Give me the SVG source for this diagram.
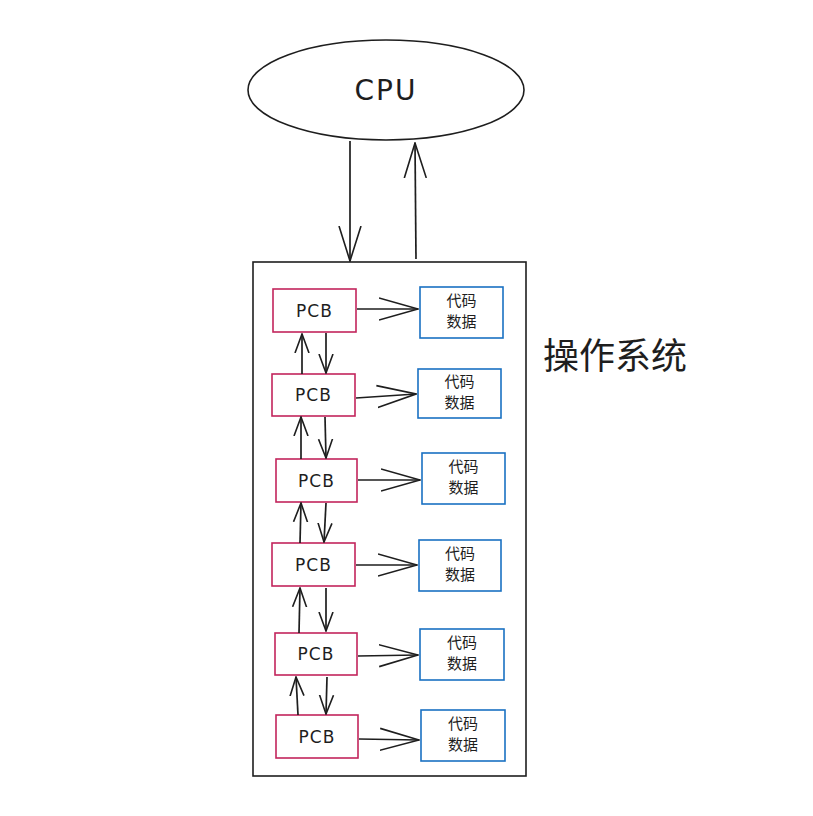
<svg xmlns="http://www.w3.org/2000/svg" width="813" height="816" viewBox="0 0 813 816">
<defs>
<marker id="ah" viewBox="0 0 20 20" refX="19" refY="10" markerWidth="20" markerHeight="20" markerUnits="userSpaceOnUse" orient="auto">
<path d="M0,3 L19,10 L0,17" fill="none" stroke="#1e1e1e" stroke-width="1.6"/>
</marker>
<marker id="ahl" viewBox="0 0 40 30" refX="39" refY="15" markerWidth="40" markerHeight="30" markerUnits="userSpaceOnUse" orient="auto">
<path d="M0,4 L39,15 L0,26" fill="none" stroke="#1e1e1e" stroke-width="1.6"/>
</marker>
<marker id="ahc" viewBox="0 0 36 26" refX="35" refY="13" markerWidth="36" markerHeight="26" markerUnits="userSpaceOnUse" orient="auto">
<path d="M0,2 L35,13 L0,24" fill="none" stroke="#1e1e1e" stroke-width="1.6"/>
</marker>
</defs>
<style>
.pcb{fill:#fff;stroke:#c2255c;stroke-width:1.6}
.mem{fill:#fff;stroke:#1971c2;stroke-width:1.6}
.pt{font-family:"DejaVu Sans",sans-serif;font-size:17px;fill:#1e1e1e;text-anchor:middle;dominant-baseline:central;letter-spacing:1px}
.mt{font-family:"Noto Sans CJK SC",sans-serif;font-size:15px;fill:#1e1e1e;text-anchor:middle}
.c{fill:none;stroke:#1e1e1e;stroke-width:1.7}
</style>
<rect width="813" height="816" fill="#fff"/>
<g id="cpu">
<ellipse cx="386" cy="90" rx="138" ry="50" fill="#fff" stroke="#1e1e1e" stroke-width="1.6"/>
<text x="386" y="90" font-family="DejaVu Sans, sans-serif" font-size="28" fill="#1e1e1e" text-anchor="middle" dominant-baseline="central" letter-spacing="2">CPU</text>
</g>
<g id="os">
<rect x="253" y="262" width="273" height="514" fill="none" stroke="#1e1e1e" stroke-width="1.6"/>
<text x="615" y="369" font-family="Noto Sans CJK SC, sans-serif" font-size="36" fill="#1e1e1e" text-anchor="middle">操作系统</text>
</g>
<g id="pcb1"><rect class="pcb" x="273" y="289" width="83" height="43"/><text class="pt" x="314.5" y="310.5">PCB</text></g>
<g id="pcb2"><rect class="pcb" x="272" y="374" width="83" height="42"/><text class="pt" x="313.5" y="395">PCB</text></g>
<g id="pcb3"><rect class="pcb" x="276" y="459" width="81" height="43"/><text class="pt" x="316.5" y="480.5">PCB</text></g>
<g id="pcb4"><rect class="pcb" x="272" y="543" width="83" height="43"/><text class="pt" x="313.5" y="564.5">PCB</text></g>
<g id="pcb5"><rect class="pcb" x="275" y="633" width="82" height="42"/><text class="pt" x="316" y="654">PCB</text></g>
<g id="pcb6"><rect class="pcb" x="276" y="715" width="82" height="43"/><text class="pt" x="317" y="736.5">PCB</text></g>
<g id="mem1"><rect class="mem" x="420" y="287" width="83" height="51"/><text class="mt" x="461.5" y="306">代码</text><text class="mt" x="461.5" y="327">数据</text></g>
<g id="mem2"><rect class="mem" x="418" y="369" width="83" height="49"/><text class="mt" x="459.5" y="387">代码</text><text class="mt" x="459.5" y="408">数据</text></g>
<g id="mem3"><rect class="mem" x="422" y="453" width="83" height="51"/><text class="mt" x="463.5" y="472">代码</text><text class="mt" x="463.5" y="493">数据</text></g>
<g id="mem4"><rect class="mem" x="419" y="540" width="82" height="51"/><text class="mt" x="460" y="559">代码</text><text class="mt" x="460" y="580">数据</text></g>
<g id="mem5"><rect class="mem" x="420" y="629" width="84" height="51"/><text class="mt" x="462" y="648">代码</text><text class="mt" x="462" y="669">数据</text></g>
<g id="mem6"><rect class="mem" x="421" y="710" width="84" height="51"/><text class="mt" x="463" y="729">代码</text><text class="mt" x="463" y="750">数据</text></g>
<g id="connectors">
<line class="c" x1="350" y1="141" x2="350" y2="261" marker-end="url(#ahc)"/>
<line class="c" x1="416" y1="259" x2="415" y2="143" marker-end="url(#ahc)"/>
<line class="c" x1="357" y1="309" x2="418" y2="309" marker-end="url(#ahl)"/>
<line class="c" x1="356" y1="398" x2="416" y2="394" marker-end="url(#ahl)"/>
<line class="c" x1="358" y1="480" x2="420" y2="480" marker-end="url(#ahl)"/>
<line class="c" x1="356" y1="565" x2="417" y2="565" marker-end="url(#ahl)"/>
<line class="c" x1="358" y1="656" x2="418" y2="655" marker-end="url(#ahl)"/>
<line class="c" x1="359" y1="739" x2="419" y2="740" marker-end="url(#ahl)"/>
<line class="c" x1="302" y1="374" x2="302" y2="334" marker-end="url(#ah)"/>
<line class="c" x1="326" y1="333" x2="326" y2="373" marker-end="url(#ah)"/>
<line class="c" x1="301" y1="459" x2="301" y2="417" marker-end="url(#ah)"/>
<line class="c" x1="325" y1="417" x2="326" y2="458" marker-end="url(#ah)"/>
<line class="c" x1="300" y1="543" x2="301" y2="503" marker-end="url(#ah)"/>
<line class="c" x1="326" y1="503" x2="324" y2="542" marker-end="url(#ah)"/>
<line class="c" x1="299" y1="633" x2="300" y2="588" marker-end="url(#ah)"/>
<line class="c" x1="326" y1="588" x2="326" y2="631" marker-end="url(#ah)"/>
<line class="c" x1="298" y1="715" x2="296" y2="677" marker-end="url(#ah)"/>
<line class="c" x1="327" y1="677" x2="326" y2="714" marker-end="url(#ah)"/>
</g>
</svg>
